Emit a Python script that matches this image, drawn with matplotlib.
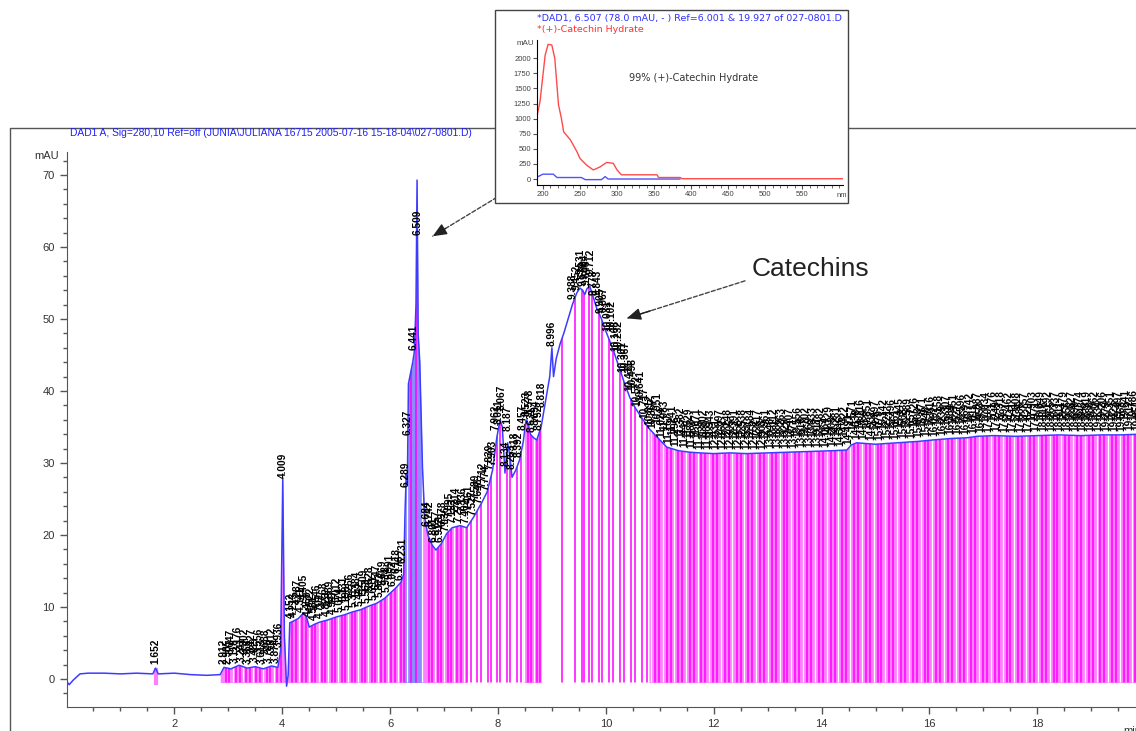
import numpy as np
import matplotlib
matplotlib.use("Agg")
import matplotlib.pyplot as plt
from matplotlib.lines import Line2D
from matplotlib.patches import Rectangle

plt.rcParams["font.family"] = ["Liberation Sans", "DejaVu Sans"]

# chromatogram trace (min, mAU)
time = np.array([
    0.00, 0.05, 0.12, 0.25, 0.40, 0.70, 1.00, 1.30, 1.60, 1.652, 1.70, 2.00, 2.30, 2.60,
    2.85, 2.92, 3.05, 3.20, 3.35, 3.50, 3.65, 3.80, 3.92, 3.97, 4.01, 4.04, 4.08, 4.11,
    4.14, 4.20, 4.30, 4.40, 4.45, 4.50, 4.60, 4.70, 4.85, 5.00, 5.15, 5.30, 5.45, 5.60,
    5.75, 5.90, 6.00, 6.10, 6.20, 6.25, 6.28, 6.30, 6.32, 6.34, 6.38, 6.42, 6.45, 6.48,
    6.50, 6.52, 6.55, 6.58, 6.60, 6.64, 6.70, 6.78, 6.85, 6.95, 7.05, 7.15, 7.30, 7.42,
    7.55, 7.70, 7.80, 7.90, 7.98, 8.04, 8.08, 8.13, 8.18, 8.22, 8.26, 8.33, 8.40, 8.47,
    8.52, 8.56, 8.60, 8.66, 8.72, 8.80, 8.88, 8.96, 9.00, 9.03, 9.08, 9.15, 9.22, 9.30,
    9.38, 9.46, 9.52, 9.57, 9.61, 9.65, 9.70, 9.76, 9.83, 9.92, 10.00, 10.07, 10.15,
    10.26, 10.35, 10.45, 10.55, 10.69, 10.80, 10.95, 11.13, 11.35, 11.55, 11.74, 12.00,
    12.30, 12.60, 13.00, 13.40, 13.80, 14.20, 14.47, 14.55, 14.65, 15.00, 15.40, 15.80,
    16.07, 16.40, 16.70, 16.88, 17.20, 17.60, 18.00, 18.40, 18.80, 19.20, 19.54, 19.90,
])
signal = np.array([
    -0.3, -0.8, -0.2, 0.7, 0.8, 0.8, 0.7, 0.8, 0.7, 1.5, 0.7, 0.8, 0.6, 0.5,
    0.6, 1.6, 1.4, 1.9, 1.5, 1.7, 1.4, 1.8, 1.6, 4.0, 27.9, 6.0, -1.0, 0.5,
    7.8, 8.0, 8.4, 9.2, 8.6, 7.2, 7.6, 7.9, 8.2, 8.6, 8.9, 9.3, 9.6, 10.1,
    10.5, 11.2, 11.9, 12.6, 13.4, 14.5, 24.0, 28.5, 27.0, 41.0, 42.5, 44.0, 45.5, 52.0,
    69.3, 48.0, 44.0, 35.0, 29.4, 22.5, 20.0, 18.6, 17.9, 18.8, 20.2, 21.0, 21.3, 21.0,
    22.5, 24.5, 26.0, 29.0, 33.6, 36.0, 35.0, 28.6, 32.8, 31.0, 28.0, 29.0, 30.4, 33.0,
    36.0, 35.5, 34.0, 33.5, 33.2, 35.0, 38.5, 42.0, 46.0, 42.0, 44.5, 46.5, 48.0, 50.0,
    52.0, 53.6, 54.3, 54.0, 53.4, 54.2, 54.6, 53.2, 51.5, 50.0, 48.3, 47.0, 45.4,
    43.0, 41.0, 39.0, 37.6, 36.0, 34.8, 33.6, 32.2, 31.7, 31.5, 31.4, 31.3,
    31.4, 31.3, 31.4, 31.5, 31.6, 31.7, 31.8, 32.5, 32.8, 32.6, 32.8, 33.0,
    33.2, 33.4, 33.5, 33.7, 33.8, 33.7, 33.8, 33.9, 33.8, 33.9, 33.9, 34.0,
])

# integrated peaks, retention times (min)
small_peaks = [1.652]
peaks_a = [2.912, 2.985, 3.047, 3.118, 3.176, 3.241, 3.302, 3.368, 3.427, 3.489,
           3.556, 3.613, 3.688, 3.745, 3.812, 3.874, 3.936, 4.009]
peaks_b = [4.152, 4.213, 4.287, 4.341, 4.405, 4.468, 4.522, 4.581, 4.646, 4.702,
           4.768, 4.823, 4.889, 4.947, 5.012, 5.074, 5.131, 5.198, 5.256, 5.317,
           5.384, 5.442, 5.509, 5.563, 5.628, 5.691, 5.747, 5.812, 5.869, 5.934,
           5.991, 6.052, 6.118, 6.176, 6.231]
peaks_c = [6.289, 6.327, 6.441, 6.509]
peaks_d = [6.684, 6.742, 6.801, 6.857, 6.912, 6.978, 7.036, 7.095, 7.153, 7.214,
           7.278, 7.336, 7.402, 7.461, 7.527, 7.589, 7.648, 7.712, 7.774, 7.839,
           7.903, 7.962, 8.011, 8.067, 8.134, 8.187, 8.253, 8.318, 8.392, 8.457,
           8.523, 8.578, 8.631, 8.694, 8.752, 8.818]
peaks_e = [8.996, 9.388, 9.452, 9.531, 9.570, 9.604, 9.646, 9.712, 9.778, 9.843,
           9.905, 9.967, 10.031, 10.102, 10.168, 10.232, 10.301, 10.367, 10.431,
           10.498, 10.572, 10.641, 10.717]
peaks_f = [10.812, 10.867, 10.951, 11.024, 11.083, 11.167, 11.241, 11.296, 11.382,
           11.447, 11.529, 11.588, 11.671, 11.735, 11.802, 11.889, 11.943, 12.031,
           12.097, 12.162, 12.248, 12.305, 12.391, 12.456, 12.538, 12.597, 12.684,
           12.752, 12.817, 12.903, 12.961, 13.048, 13.112, 13.186, 13.263, 13.329,
           13.407, 13.471, 13.556, 13.618, 13.702, 13.769, 13.833, 13.917, 13.982,
           14.064, 14.129, 14.203, 14.281, 14.346, 14.422, 14.491, 14.571, 14.638,
           14.716, 14.784, 14.851, 14.932, 14.997, 15.079, 15.142, 15.221, 15.296,
           15.361, 15.445, 15.508, 15.589, 15.657, 15.726, 15.803, 15.871, 15.948,
           16.016, 16.092, 16.158, 16.239, 16.307, 16.384, 16.451, 16.527, 16.596,
           16.669, 16.742, 16.811, 16.887, 16.953, 17.034, 17.101, 17.176, 17.249,
           17.318, 17.397, 17.462, 17.541, 17.608, 17.686, 17.757, 17.829, 17.903,
           17.971, 18.049, 18.118, 18.192, 18.265, 18.337, 18.411, 18.479, 18.556,
           18.627, 18.698, 18.774, 18.843, 18.919, 18.988, 19.062, 19.134, 19.206,
           19.279, 19.351, 19.423, 19.497, 19.568, 19.641, 19.712, 19.786, 19.851]

# integration fill colour per time window
fill_segments = [
    (2.85, 6.25, "#ff80ff"),
    (6.25, 6.60, "#8c8cff"),
    (6.60, 7.42, "#ff80ff"),
    (7.42, 8.47, None),
    (8.47, 8.80, "#ff80ff"),
    (8.80, 10.80, None),
    (10.80, 19.90, "#ff80ff"),
]

# UV spectra in the inset (nm, mAU)
wl_red = [191, 196, 203, 207, 212, 216, 221, 225, 228, 237, 246, 250, 259, 268,
          277, 286, 295, 300, 306, 354, 356, 385, 388, 606]
abs_red = [980, 1280, 2050, 2230, 2220, 2000, 1230, 1000, 780, 650, 450, 340, 230, 150,
           200, 275, 260, 150, 70, 70, 25, 25, 5, 5]
wl_blue = [191, 200, 214, 219, 252, 257, 279, 284, 288, 385]
abs_blue = [25, 80, 80, 25, 25, -10, -10, 40, 0, 0]

title_main = "DAD1 A, Sig=280,10 Ref=off (JUNIA\\JULIANA 16715 2005-07-16 15-18-04\\027-0801.D)"
title_inset_1 = "*DAD1, 6.507 (78.0 mAU, - ) Ref=6.001 & 19.927 of 027-0801.D"
title_inset_2 = "*(+)-Catechin Hydrate"
inset_note = "99% (+)-Catechin Hydrate"

W, H = 1136, 731
fig = plt.figure(figsize=(W / 100, H / 100), dpi=100)

# outer report frame
fig.add_artist(Line2D([10 / W, 10 / W, 1.0], [0.0, 1 - 128 / H, 1 - 128 / H],
                      transform=fig.transFigure, color="#555555", lw=1))

ax = fig.add_axes([66.5 / W, 24 / H, 1 - 66.5 / W, 555 / H])
base = -0.5

for start, end, color in fill_segments:
    if color is None:
        continue
    mask = (time >= start) & (time <= end)
    ax.fill_between(time, base, signal, where=mask, color=color, lw=0, zorder=1)

clip = ax.fill_between(time, base, signal, where=time >= 2.85, color="none", lw=0)
clip_path = clip.get_paths()[0]

peak_times = np.array(peaks_a + peaks_b + peaks_c + peaks_d + peaks_e + peaks_f)
bounds = (peak_times[1:] + peak_times[:-1]) / 2
idx = np.arange(len(bounds))
drop_mag = ax.vlines(bounds[idx % 3 != 2], base, 80, color="#ff00ff", lw=1.1, zorder=2)
drop_wht = ax.vlines(bounds[idx % 3 == 2], base, 80, color="white", lw=0.9, zorder=2)
for coll in (drop_mag, drop_wht):
    coll.set_clip_path(clip_path, ax.transData)

ax.vlines(small_peaks, -0.8, np.interp(small_peaks, time, signal), color="#ff80ff", lw=3, zorder=1)

ax.plot(time, signal, color="#3c3cff", lw=1.1, zorder=3)

# retention-time labels; crowded ones are pushed up a row like the integrator does
all_peaks = small_peaks + list(peak_times)
tops = np.interp(all_peaks, time, signal)
prev = -1.0
for i, (t, top) in enumerate(zip(all_peaks, tops)):
    crowded = (t - prev) < 0.09 and i % 2 == 1
    prev = t
    ax.text(t, top + (2.0 if crowded else 0.6), f"{t:.3f}", rotation=90, ha="center",
            va="bottom", fontsize=7.3, fontweight="bold", color="black", zorder=4)

ax.set_xlim(0, 19.83)
ax.set_ylim(-3.9, 73.2)
ax.set_xticks(np.arange(2, 19, 2))
ax.set_xticks(np.arange(0.5, 20, 0.5), minor=True)
ax.set_yticks(np.arange(0, 71, 10))
ax.set_yticks(np.arange(-2, 73, 2), minor=True)
ax.tick_params(which="both", colors="#555555", labelcolor="#333333", labelsize=8, direction="out")
ax.tick_params(which="major", length=5, width=1)
ax.tick_params(which="minor", length=3, width=1)
for side in ("top", "right"):
    ax.spines[side].set_visible(False)
for side in ("left", "bottom"):
    ax.spines[side].set_color("#555555")
ax.patch.set_visible(False)

ax.text(-0.15, 72.6, "mAU", ha="right", va="center", fontsize=8, color="#333333", clip_on=False)
ax.text(19.6, -0.035, "min", transform=ax.get_xaxis_transform(), ha="left", va="top",
        fontsize=8, color="#333333", clip_on=False)

fig.text(70 / W, 1 - 133 / H, title_main, color="#1f1fff", fontsize=7.4, ha="left", va="center")

# arrows and annotation
def dashed_arrow(x0, y0, x1, y1):
    ax.annotate("", xy=(x1, y1), xytext=(x0, y0),
                arrowprops=dict(arrowstyle="-", color="#444444", lw=1, ls=(0, (3, 1.5)),
                                shrinkA=0, shrinkB=0), zorder=4)
    xm, ym = x0 + 0.8 * (x1 - x0), y0 + 0.8 * (y1 - y0)
    ax.annotate("", xy=(x1, y1), xytext=(xm, ym),
                arrowprops=dict(arrowstyle="-|>,head_length=0.7,head_width=0.3", color="#222222",
                                lw=1, shrinkA=0, shrinkB=0, mutation_scale=12), zorder=4)

dashed_arrow(7.98, 66.9, 6.79, 61.5)
dashed_arrow(12.58, 55.3, 10.39, 50.1)
ax.text(12.71, 56.9, "Catechins", fontsize=19, ha="left", va="center", color="#222222")

# inset spectrum
box = Rectangle((495 / W, 1 - 203 / H), 353 / W, 193 / H, transform=fig.transFigure,
                facecolor="white", edgecolor="#444444", lw=1, zorder=5)
fig.add_artist(box)

ax_in = fig.add_axes([537 / W, 1 - 185 / H, 306 / W, 145 / H])
ax_in.set_zorder(6)
ax_in.patch.set_visible(False)
ax_in.plot(wl_blue, abs_blue, color="#5050ff", lw=1)
ax_in.plot(wl_red, abs_red, color="#ff4a4a", lw=1)
ax_in.set_xlim(192, 605)
ax_in.set_ylim(-99, 2302)
ax_in.set_xticks(np.arange(200, 551, 50))
ax_in.set_xticks(np.arange(200, 601, 10), minor=True)
ax_in.set_yticks(np.arange(0, 2001, 250))
ax_in.tick_params(which="both", colors="#555555", labelcolor="#444444", labelsize=5.5,
                  direction="out", pad=1.5)
ax_in.tick_params(which="major", length=3)
ax_in.tick_params(which="minor", length=2)
for side in ("top", "right"):
    ax_in.spines[side].set_visible(False)
ax_in.text(-0.01, 2250, "mAU", transform=ax_in.get_yaxis_transform(), ha="right", va="center",
           fontsize=5.8, color="#444444")
ax_in.text(596, -0.05, "nm", transform=ax_in.get_xaxis_transform(), ha="left", va="top",
           fontsize=5.5, color="#444444")
ax_in.text(403, 1672, inset_note, ha="center", va="center", fontsize=7, color="#333333",
           family="DejaVu Sans")

fig.text(537 / W, 1 - 18 / H, title_inset_1, color="#3030ff", fontsize=6.8, ha="left",
         va="center", zorder=7, family="DejaVu Sans")
fig.text(537 / W, 1 - 29 / H, title_inset_2, color="#ff3030", fontsize=6.8, ha="left",
         va="center", zorder=7, family="DejaVu Sans")

fig.savefig("out.png", dpi=100)
